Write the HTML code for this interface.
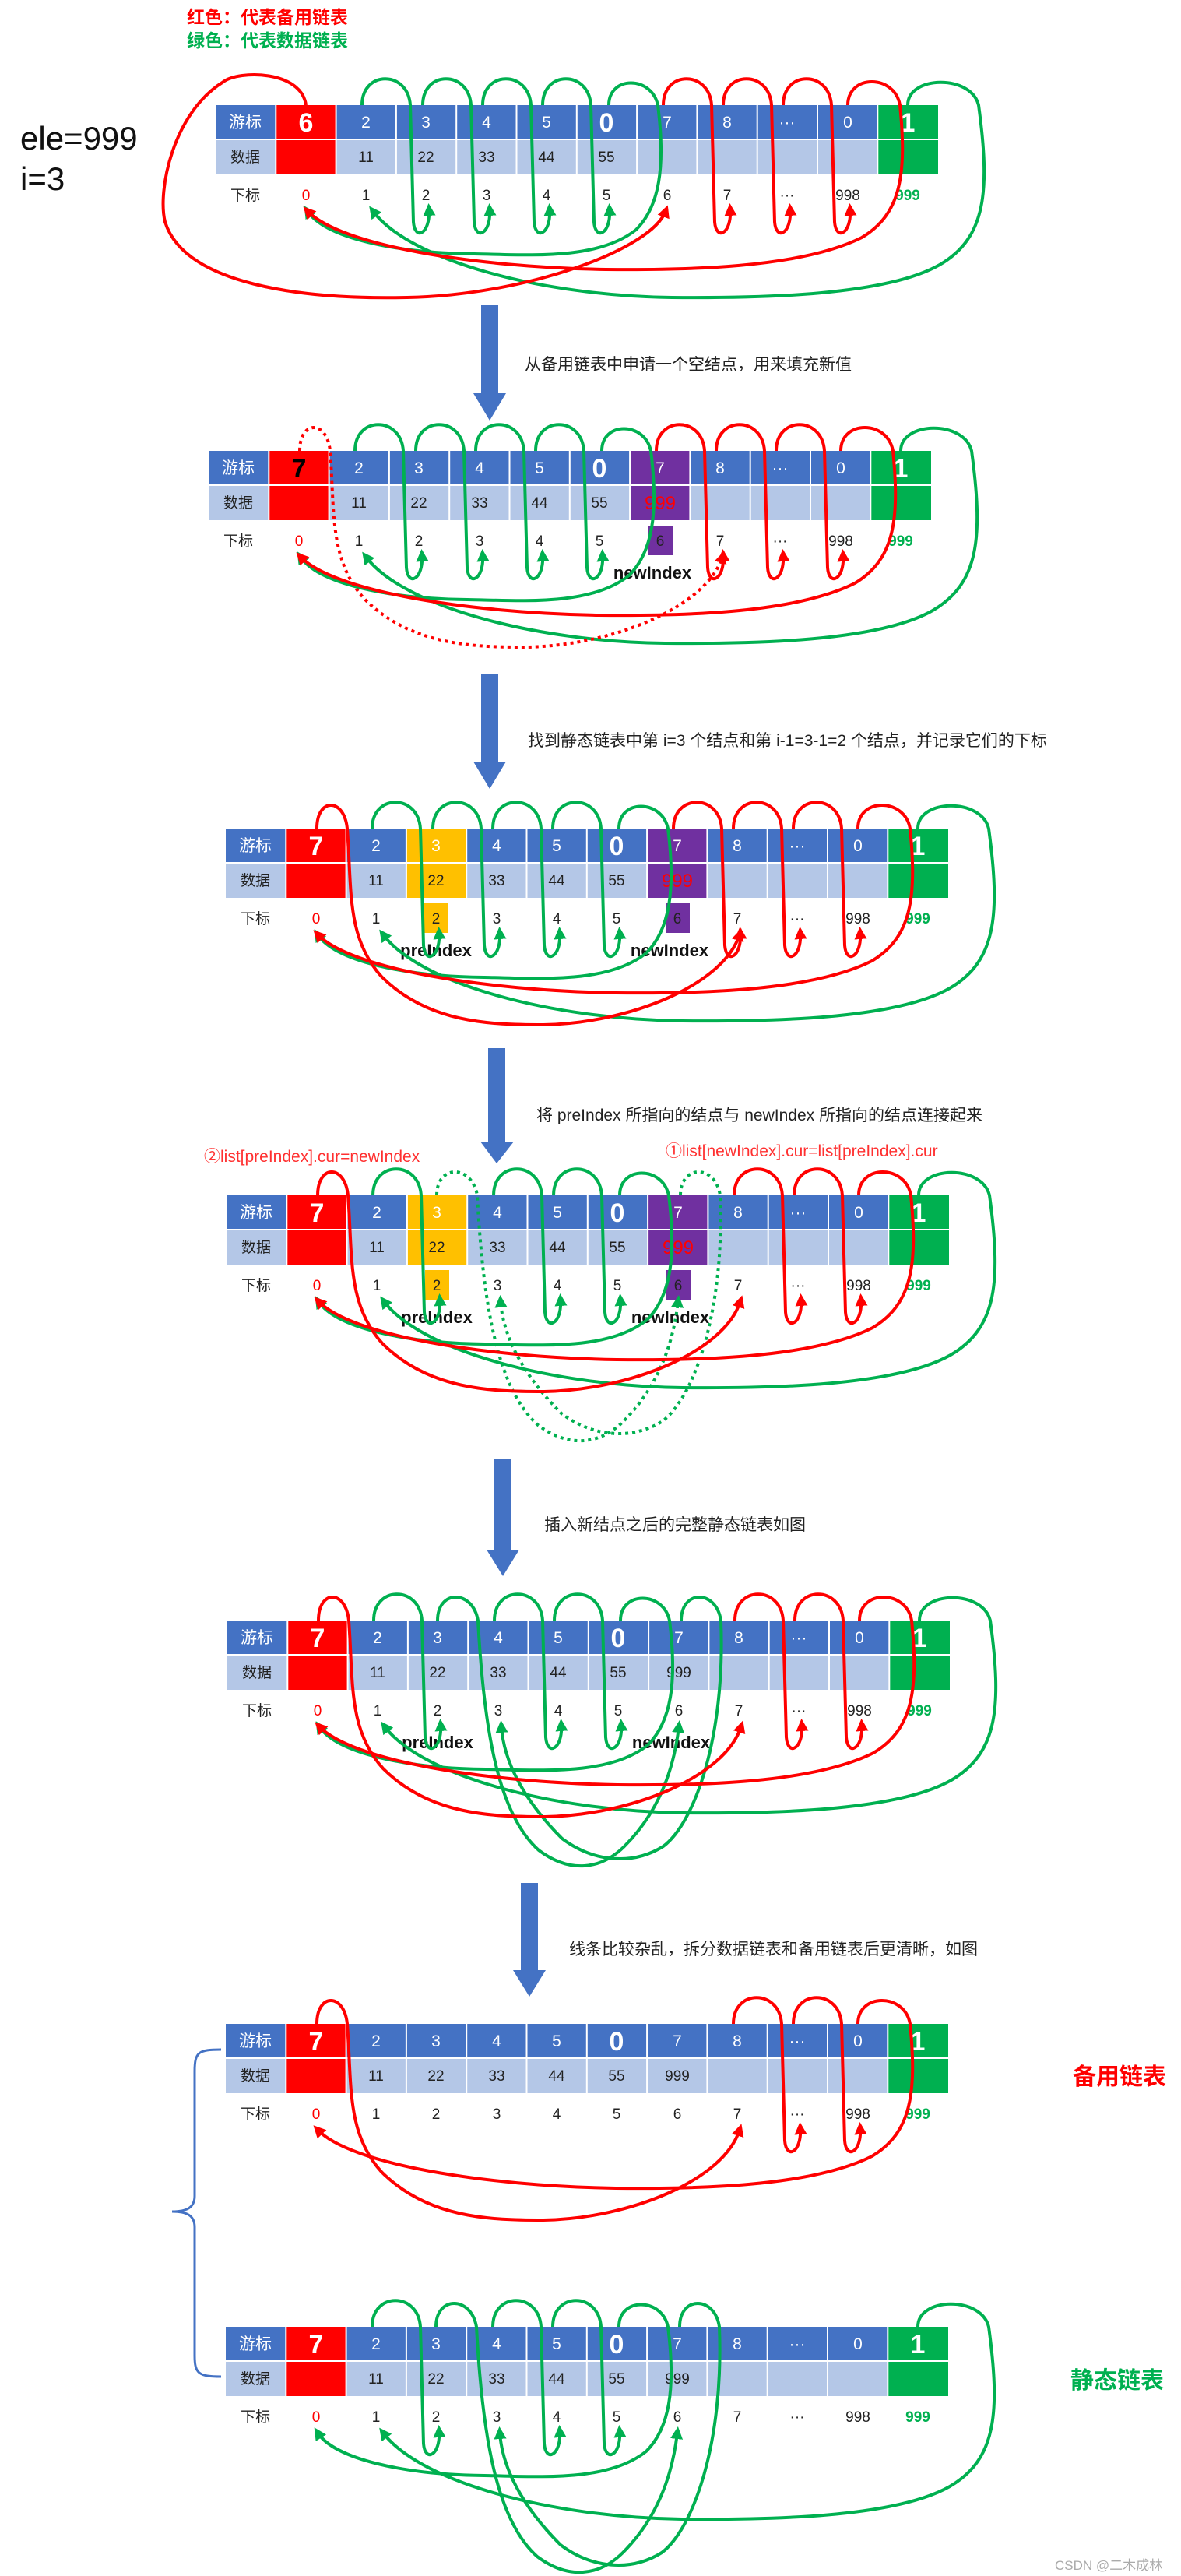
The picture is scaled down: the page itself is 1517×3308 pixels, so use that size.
<!DOCTYPE html>
<html><head><meta charset="utf-8"><style>
html,body{margin:0;padding:0;background:#fff}
svg{display:block}
text{font-family:"Liberation Sans","Noto Sans CJK SC",sans-serif}
.c{fill:#fff;font-size:21px;text-anchor:middle}
.b{fill:#fff;font-size:34px;font-weight:bold;text-anchor:middle}
.d{fill:#222;font-size:19px;text-anchor:middle}
.i{fill:#222;font-size:19px;text-anchor:middle}
.lb{font-size:21px;text-anchor:middle}
.g{fill:none;stroke:#00B050;stroke-width:4;marker-end:url(#mg)}
.r{fill:none;stroke:#FF0000;stroke-width:4;marker-end:url(#mr)}
.dt{stroke-dasharray:4 5}
.tag{font-size:22px;font-weight:bold;fill:#111;text-anchor:middle}
.t{font-size:21px;fill:#222}
</style></head><body>
<svg width="1517" height="3308" viewBox="0 0 1517 3308" xmlns="http://www.w3.org/2000/svg">
<defs>
<marker id="mr" viewBox="0 0 10 10" refX="5" refY="5" markerWidth="4" markerHeight="4" orient="auto"><path d="M0,0 L10,5 L0,10 z" fill="#FF0000"/></marker>
<marker id="mg" viewBox="0 0 10 10" refX="5" refY="5" markerWidth="4" markerHeight="4" orient="auto"><path d="M0,0 L10,5 L0,10 z" fill="#00B050"/></marker>
</defs>

<text x="240" y="30" font-size="23" font-weight="bold" fill="#FF0000">红色：代表备用链表</text>
<text x="240" y="60" font-size="23" font-weight="bold" fill="#00B050">绿色：代表数据链表</text>
<text x="26" y="192" font-size="42" fill="#111">ele=999</text>
<text x="26" y="244" font-size="42" fill="#111">i=3</text>

<!-- arrows -->
<g fill="#4472C4">
<polygon points="618,392 640,392 640,505 650,505 629,540 608,505 618,505"/>
<polygon points="618,865 640,865 640,978 650,978 629,1013 608,978 618,978"/>
<polygon points="627,1346 649,1346 649,1466 660,1466 638,1494 617,1466 627,1466"/>
<polygon points="635,1873 657,1873 657,1990 667,1990 646,2024 625,1990 635,1990"/>
<polygon points="669,2418 691,2418 691,2530 701,2530 680,2564 659,2530 669,2530"/>
</g>
<text x="674" y="475" class="t">从备用链表中申请一个空结点，用来填充新值</text>
<text x="678" y="958" class="t">找到静态链表中第 i=3 个结点和第 i-1=3-1=2 个结点，并记录它们的下标</text>
<text x="689" y="1439" class="t">将 preIndex 所指向的结点与 newIndex 所指向的结点连接起来</text>
<text x="699" y="1965" class="t">插入新结点之后的完整静态链表如图</text>
<text x="731" y="2510" class="t">线条比较杂乱，拆分数据链表和备用链表后更清晰，如图</text>

<text x="262" y="1492" font-size="21" fill="#FF3030">②list[preIndex].cur=newIndex</text>
<text x="855" y="1485" font-size="21" fill="#FF3030">①list[newIndex].cur=list[preIndex].cur</text>

<!-- D1 -->
<g transform="translate(277,135)">
<rect width="928" height="44" fill="#4472C4"/><rect y="44" width="928" height="45" fill="#B4C7E7"/>
<rect x="77.3" width="77.3" height="89" fill="#FF0000"/><rect x="850.3" width="77.7" height="89" fill="#00B050"/>
<path d="M77.3 0V89M154.6 0V89M231.9 0V89M309.2 0V89M386.5 0V89M463.8 0V89M541.1 0V89M618.4 0V89M695.7 0V89M773 0V89M850.3 0V89M0 44H928" stroke="#fff" stroke-width="2"/>
<text x="38" y="29" class="c">游标</text><text x="38" y="73" class="d">数据</text><text x="38" y="122" class="i">下标</text>
<text x="116" y="34" class="b">6</text><text x="193" y="29" class="c">2</text><text x="270" y="29" class="c">3</text><text x="348" y="29" class="c">4</text><text x="425" y="29" class="c">5</text><text x="502" y="34" class="b">0</text><text x="580" y="29" class="c">7</text><text x="657" y="29" class="c">8</text><text x="734" y="29" class="c">···</text><text x="812" y="29" class="c">0</text><text x="889" y="34" class="b">1</text>
<text x="193" y="73" class="d">11</text><text x="270" y="73" class="d">22</text><text x="348" y="73" class="d">33</text><text x="425" y="73" class="d">44</text><text x="502" y="73" class="d">55</text>
<text x="116" y="122" class="i" fill="#FF0000" style="fill:#f00">0</text><text x="193" y="122" class="i">1</text><text x="270" y="122" class="i">2</text><text x="348" y="122" class="i">3</text><text x="425" y="122" class="i">4</text><text x="502" y="122" class="i">5</text><text x="580" y="122" class="i">6</text><text x="657" y="122" class="i">7</text><text x="734" y="122" class="i">···</text><text x="812" y="122" class="i">998</text><text x="889" y="122" class="i" style="fill:#00B050;font-weight:bold">999</text>
<path class="g" d="M188,0 C188,-45 247,-45 250,0 L254,150 C256,175 276,165 274,134"/>
<path class="g" d="M266,0 C266,-45 325,-45 328,0 L332,150 C334,175 354,165 352,134"/>
<path class="g" d="M343,0 C343,-45 402,-45 405,0 L409,150 C411,175 431,165 429,134"/>
<path class="g" d="M420,0 C420,-45 479,-45 482,0 L486,150 C488,175 508,165 506,134"/>
<path class="g" d="M505,0 C505,-38 560,-38 568,0 C578,80 570,130 540,160 C490,200 400,192 332,191 C230,190 140,170 118,136"/>
<path class="g" d="M889,0 C889,-38 970,-40 980,0 C995,110 990,170 930,205 C860,245 700,248 586,247 C420,245 250,200 202,136"/>
<path class="r" d="M116,0 C110,-45 30,-45 10,-30 C-55,10 -75,110 -65,150 C-40,230 110,250 246,247 C400,244 560,185 578,136"/>
<path class="r" d="M575,0 C575,-45 634,-45 637,0 L641,150 C643,175 663,165 661,134"/>
<path class="r" d="M652,0 C652,-45 711,-45 714,0 L718,150 C720,175 740,165 738,134"/>
<path class="r" d="M729,0 C729,-45 788,-45 791,0 L795,150 C797,175 817,165 815,134"/>
<path class="r" d="M812,0 C812,-40 872,-40 879,0 C888,90 880,140 830,170 C750,210 600,212 501,211 C330,208 160,180 118,136"/>
</g>

<!-- D2 -->
<g transform="translate(268,579)">
<rect width="928" height="44" fill="#4472C4"/><rect y="44" width="928" height="45" fill="#B4C7E7"/>
<rect x="77.3" width="77.3" height="89" fill="#FF0000"/><rect x="850.3" width="77.7" height="89" fill="#00B050"/>
<rect x="541.1" width="77.3" height="89" fill="#7030A0"/>
<path d="M77.3 0V89M154.6 0V89M231.9 0V89M309.2 0V89M386.5 0V89M463.8 0V89M541.1 0V89M618.4 0V89M695.7 0V89M773 0V89M850.3 0V89M0 44H928" stroke="#fff" stroke-width="2"/>
<text x="38" y="29" class="c">游标</text><text x="38" y="73" class="d">数据</text><text x="38" y="122" class="i">下标</text>
<text x="116" y="34" class="b" style="fill:#000">7</text><text x="193" y="29" class="c">2</text><text x="270" y="29" class="c">3</text><text x="348" y="29" class="c">4</text><text x="425" y="29" class="c">5</text><text x="502" y="34" class="b">0</text><text x="580" y="29" class="c">7</text><text x="657" y="29" class="c">8</text><text x="734" y="29" class="c">···</text><text x="812" y="29" class="c">0</text><text x="889" y="34" class="b">1</text>
<text x="193" y="73" class="d">11</text><text x="270" y="73" class="d">22</text><text x="348" y="73" class="d">33</text><text x="425" y="73" class="d">44</text><text x="502" y="73" class="d">55</text><text x="580" y="75" class="d" style="fill:#f00;font-size:24px">999</text>
<rect x="565" y="96" width="31" height="38" fill="#7030A0"/>
<text x="116" y="122" class="i" style="fill:#f00">0</text><text x="193" y="122" class="i">1</text><text x="270" y="122" class="i">2</text><text x="348" y="122" class="i">3</text><text x="425" y="122" class="i">4</text><text x="502" y="122" class="i">5</text><text x="580" y="122" class="i">6</text><text x="657" y="122" class="i">7</text><text x="734" y="122" class="i">···</text><text x="812" y="122" class="i">998</text><text x="889" y="122" class="i" style="fill:#00B050;font-weight:bold">999</text>
<text x="570" y="164" class="tag">newIndex</text>
<path class="g" d="M188,0 C188,-45 247,-45 250,0 L254,150 C256,175 276,165 274,134"/>
<path class="g" d="M266,0 C266,-45 325,-45 328,0 L332,150 C334,175 354,165 352,134"/>
<path class="g" d="M343,0 C343,-45 402,-45 405,0 L409,150 C411,175 431,165 429,134"/>
<path class="g" d="M420,0 C420,-45 479,-45 482,0 L486,150 C488,175 508,165 506,134"/>
<path class="g" d="M505,0 C505,-38 560,-38 568,0 C578,80 570,130 540,160 C490,200 400,192 332,191 C230,190 140,170 118,136"/>
<path class="g" d="M889,0 C889,-38 970,-40 980,0 C995,110 990,170 930,205 C860,245 700,248 586,247 C420,245 250,200 202,136"/>
<path class="r dt" d="M117,0 C117,-40 152,-40 156,0 C162,80 155,140 200,190 C260,250 340,252 408,252 C520,250 640,200 660,136"/>
<path class="r" d="M575,0 C575,-45 634,-45 637,0 L641,150 C643,175 663,165 661,134"/>
<path class="r" d="M652,0 C652,-45 711,-45 714,0 L718,150 C720,175 740,165 738,134"/>
<path class="r" d="M729,0 C729,-45 788,-45 791,0 L795,150 C797,175 817,165 815,134"/>
<path class="r" d="M812,0 C812,-40 872,-40 879,0 C888,90 880,140 830,170 C750,210 600,212 501,211 C330,208 160,180 118,136"/>
</g>

<!-- D3 -->
<g transform="translate(290,1064)">
<rect width="928" height="44" fill="#4472C4"/><rect y="44" width="928" height="45" fill="#B4C7E7"/>
<rect x="77.3" width="77.3" height="89" fill="#FF0000"/><rect x="850.3" width="77.7" height="89" fill="#00B050"/>
<rect x="541.1" width="77.3" height="89" fill="#7030A0"/><rect x="231.9" width="77.3" height="89" fill="#FFC000"/>
<path d="M77.3 0V89M154.6 0V89M231.9 0V89M309.2 0V89M386.5 0V89M463.8 0V89M541.1 0V89M618.4 0V89M695.7 0V89M773 0V89M850.3 0V89M0 44H928" stroke="#fff" stroke-width="2"/>
<text x="38" y="29" class="c">游标</text><text x="38" y="73" class="d">数据</text><text x="38" y="122" class="i">下标</text>
<text x="116" y="34" class="b">7</text><text x="193" y="29" class="c">2</text><text x="270" y="29" class="c">3</text><text x="348" y="29" class="c">4</text><text x="425" y="29" class="c">5</text><text x="502" y="34" class="b">0</text><text x="580" y="29" class="c">7</text><text x="657" y="29" class="c">8</text><text x="734" y="29" class="c">···</text><text x="812" y="29" class="c">0</text><text x="889" y="34" class="b">1</text>
<text x="193" y="73" class="d">11</text><text x="270" y="73" class="d">22</text><text x="348" y="73" class="d">33</text><text x="425" y="73" class="d">44</text><text x="502" y="73" class="d">55</text><text x="580" y="75" class="d" style="fill:#f00;font-size:24px">999</text>
<rect x="565" y="96" width="31" height="38" fill="#7030A0"/><rect x="255" y="96" width="31" height="38" fill="#FFC000"/>
<text x="116" y="122" class="i" style="fill:#f00">0</text><text x="193" y="122" class="i">1</text><text x="270" y="122" class="i">2</text><text x="348" y="122" class="i">3</text><text x="425" y="122" class="i">4</text><text x="502" y="122" class="i">5</text><text x="580" y="122" class="i">6</text><text x="657" y="122" class="i">7</text><text x="734" y="122" class="i">···</text><text x="812" y="122" class="i">998</text><text x="889" y="122" class="i" style="fill:#00B050;font-weight:bold">999</text>
<text x="270" y="164" class="tag">preIndex</text><text x="570" y="164" class="tag">newIndex</text>
<path class="g" d="M188,0 C188,-45 247,-45 250,0 L254,150 C256,175 276,165 274,134"/>
<path class="g" d="M266,0 C266,-45 325,-45 328,0 L332,150 C334,175 354,165 352,134"/>
<path class="g" d="M343,0 C343,-45 402,-45 405,0 L409,150 C411,175 431,165 429,134"/>
<path class="g" d="M420,0 C420,-45 479,-45 482,0 L486,150 C488,175 508,165 506,134"/>
<path class="g" d="M505,0 C505,-38 560,-38 568,0 C578,80 570,130 540,160 C490,200 400,192 332,191 C230,190 140,170 118,136"/>
<path class="g" d="M889,0 C889,-38 970,-40 980,0 C995,110 990,170 930,205 C860,245 700,248 586,247 C420,245 250,200 202,136"/>
<path class="r" d="M117,0 C117,-40 152,-40 156,0 C162,80 155,140 200,190 C260,250 340,252 408,252 C520,250 640,200 660,136"/>
<path class="r" d="M575,0 C575,-45 634,-45 637,0 L641,150 C643,175 663,165 661,134"/>
<path class="r" d="M652,0 C652,-45 711,-45 714,0 L718,150 C720,175 740,165 738,134"/>
<path class="r" d="M729,0 C729,-45 788,-45 791,0 L795,150 C797,175 817,165 815,134"/>
<path class="r" d="M812,0 C812,-40 872,-40 879,0 C888,90 880,140 830,170 C750,210 600,212 501,211 C330,208 160,180 118,136"/>
</g>

<!-- D4 -->
<g transform="translate(291,1535)">
<rect width="928" height="44" fill="#4472C4"/><rect y="44" width="928" height="45" fill="#B4C7E7"/>
<rect x="77.3" width="77.3" height="89" fill="#FF0000"/><rect x="850.3" width="77.7" height="89" fill="#00B050"/>
<rect x="541.1" width="77.3" height="89" fill="#7030A0"/><rect x="231.9" width="77.3" height="89" fill="#FFC000"/>
<path d="M77.3 0V89M154.6 0V89M231.9 0V89M309.2 0V89M386.5 0V89M463.8 0V89M541.1 0V89M618.4 0V89M695.7 0V89M773 0V89M850.3 0V89M0 44H928" stroke="#fff" stroke-width="2"/>
<text x="38" y="29" class="c">游标</text><text x="38" y="73" class="d">数据</text><text x="38" y="122" class="i">下标</text>
<text x="116" y="34" class="b">7</text><text x="193" y="29" class="c">2</text><text x="270" y="29" class="c">3</text><text x="348" y="29" class="c">4</text><text x="425" y="29" class="c">5</text><text x="502" y="34" class="b">0</text><text x="580" y="29" class="c">7</text><text x="657" y="29" class="c">8</text><text x="734" y="29" class="c">···</text><text x="812" y="29" class="c">0</text><text x="889" y="34" class="b">1</text>
<text x="193" y="73" class="d">11</text><text x="270" y="73" class="d">22</text><text x="348" y="73" class="d">33</text><text x="425" y="73" class="d">44</text><text x="502" y="73" class="d">55</text><text x="580" y="75" class="d" style="fill:#f00;font-size:24px">999</text>
<rect x="565" y="96" width="31" height="38" fill="#7030A0"/><rect x="255" y="96" width="31" height="38" fill="#FFC000"/>
<text x="116" y="122" class="i" style="fill:#f00">0</text><text x="193" y="122" class="i">1</text><text x="270" y="122" class="i">2</text><text x="348" y="122" class="i">3</text><text x="425" y="122" class="i">4</text><text x="502" y="122" class="i">5</text><text x="580" y="122" class="i">6</text><text x="657" y="122" class="i">7</text><text x="734" y="122" class="i">···</text><text x="812" y="122" class="i">998</text><text x="889" y="122" class="i" style="fill:#00B050;font-weight:bold">999</text>
<text x="270" y="164" class="tag">preIndex</text><text x="570" y="164" class="tag">newIndex</text>
<path class="g" d="M188,0 C188,-45 247,-45 250,0 L254,150 C256,175 276,165 274,134"/>
<path class="g" d="M343,0 C343,-45 402,-45 405,0 L409,150 C411,175 431,165 429,134"/>
<path class="g" d="M420,0 C420,-45 479,-45 482,0 L486,150 C488,175 508,165 506,134"/>
<path class="g" d="M505,0 C505,-38 560,-38 568,0 C578,80 570,130 540,160 C490,200 400,192 332,191 C230,190 140,170 118,136"/>
<path class="g" d="M889,0 C889,-38 970,-40 980,0 C995,110 990,170 930,205 C860,245 700,248 586,247 C420,245 250,200 202,136"/>
<path class="g dt" d="M270,0 C270,-40 315,-40 322,0 C330,150 350,250 400,295 C440,325 480,320 510,290 C560,240 575,180 580,136"/>
<path class="g dt" d="M583,0 C583,-40 628,-40 634,0 C640,150 600,260 560,290 C520,315 470,310 430,280 C380,230 355,180 352,136"/>
<path class="r" d="M117,0 C117,-40 152,-40 156,0 C162,80 155,140 200,190 C260,250 340,252 408,252 C520,250 640,200 660,136"/>
<path class="r" d="M652,0 C652,-45 711,-45 714,0 L718,150 C720,175 740,165 738,134"/>
<path class="r" d="M729,0 C729,-45 788,-45 791,0 L795,150 C797,175 817,165 815,134"/>
<path class="r" d="M812,0 C812,-40 872,-40 879,0 C888,90 880,140 830,170 C750,210 600,212 501,211 C330,208 160,180 118,136"/>
</g>

<!-- D5 -->
<g transform="translate(292,2081)">
<rect width="928" height="44" fill="#4472C4"/><rect y="44" width="928" height="45" fill="#B4C7E7"/>
<rect x="77.3" width="77.3" height="89" fill="#FF0000"/><rect x="850.3" width="77.7" height="89" fill="#00B050"/>
<path d="M77.3 0V89M154.6 0V89M231.9 0V89M309.2 0V89M386.5 0V89M463.8 0V89M541.1 0V89M618.4 0V89M695.7 0V89M773 0V89M850.3 0V89M0 44H928" stroke="#fff" stroke-width="2"/>
<text x="38" y="29" class="c">游标</text><text x="38" y="73" class="d">数据</text><text x="38" y="122" class="i">下标</text>
<text x="116" y="34" class="b">7</text><text x="193" y="29" class="c">2</text><text x="270" y="29" class="c">3</text><text x="348" y="29" class="c">4</text><text x="425" y="29" class="c">5</text><text x="502" y="34" class="b">0</text><text x="580" y="29" class="c">7</text><text x="657" y="29" class="c">8</text><text x="734" y="29" class="c">···</text><text x="812" y="29" class="c">0</text><text x="889" y="34" class="b">1</text>
<text x="193" y="73" class="d">11</text><text x="270" y="73" class="d">22</text><text x="348" y="73" class="d">33</text><text x="425" y="73" class="d">44</text><text x="502" y="73" class="d">55</text><text x="580" y="73" class="d">999</text>
<text x="116" y="122" class="i" style="fill:#f00">0</text><text x="193" y="122" class="i">1</text><text x="270" y="122" class="i">2</text><text x="348" y="122" class="i">3</text><text x="425" y="122" class="i">4</text><text x="502" y="122" class="i">5</text><text x="580" y="122" class="i">6</text><text x="657" y="122" class="i">7</text><text x="734" y="122" class="i">···</text><text x="812" y="122" class="i">998</text><text x="889" y="122" class="i" style="fill:#00B050;font-weight:bold">999</text>
<text x="270" y="164" class="tag">preIndex</text><text x="570" y="164" class="tag">newIndex</text>
<path class="g" d="M188,0 C188,-45 247,-45 250,0 L254,150 C256,175 276,165 274,134"/>
<path class="g" d="M343,0 C343,-45 402,-45 405,0 L409,150 C411,175 431,165 429,134"/>
<path class="g" d="M420,0 C420,-45 479,-45 482,0 L486,150 C488,175 508,165 506,134"/>
<path class="g" d="M505,0 C505,-38 560,-38 568,0 C578,80 570,130 540,160 C490,200 400,192 332,191 C230,190 140,170 118,136"/>
<path class="g" d="M889,0 C889,-38 970,-40 980,0 C995,110 990,170 930,205 C860,245 700,248 586,247 C420,245 250,200 202,136"/>
<path class="g" d="M270,0 C270,-40 315,-40 322,0 C330,150 350,250 400,295 C440,325 480,320 510,290 C560,240 575,180 580,136"/>
<path class="g" d="M583,0 C583,-40 628,-40 634,0 C640,150 600,260 560,290 C520,315 470,310 430,280 C380,230 355,180 352,136"/>
<path class="r" d="M117,0 C117,-40 152,-40 156,0 C162,80 155,140 200,190 C260,250 340,252 408,252 C520,250 640,200 660,136"/>
<path class="r" d="M652,0 C652,-45 711,-45 714,0 L718,150 C720,175 740,165 738,134"/>
<path class="r" d="M729,0 C729,-45 788,-45 791,0 L795,150 C797,175 817,165 815,134"/>
<path class="r" d="M812,0 C812,-40 872,-40 879,0 C888,90 880,140 830,170 C750,210 600,212 501,211 C330,208 160,180 118,136"/>
</g>

<!-- D6 -->
<g transform="translate(290,2599)">
<rect width="928" height="44" fill="#4472C4"/><rect y="44" width="928" height="45" fill="#B4C7E7"/>
<rect x="77.3" width="77.3" height="89" fill="#FF0000"/><rect x="850.3" width="77.7" height="89" fill="#00B050"/>
<path d="M77.3 0V89M154.6 0V89M231.9 0V89M309.2 0V89M386.5 0V89M463.8 0V89M541.1 0V89M618.4 0V89M695.7 0V89M773 0V89M850.3 0V89M0 44H928" stroke="#fff" stroke-width="2"/>
<text x="38" y="29" class="c">游标</text><text x="38" y="73" class="d">数据</text><text x="38" y="122" class="i">下标</text>
<text x="116" y="34" class="b">7</text><text x="193" y="29" class="c">2</text><text x="270" y="29" class="c">3</text><text x="348" y="29" class="c">4</text><text x="425" y="29" class="c">5</text><text x="502" y="34" class="b">0</text><text x="580" y="29" class="c">7</text><text x="657" y="29" class="c">8</text><text x="734" y="29" class="c">···</text><text x="812" y="29" class="c">0</text><text x="889" y="34" class="b">1</text>
<text x="193" y="73" class="d">11</text><text x="270" y="73" class="d">22</text><text x="348" y="73" class="d">33</text><text x="425" y="73" class="d">44</text><text x="502" y="73" class="d">55</text><text x="580" y="73" class="d">999</text>
<text x="116" y="122" class="i" style="fill:#f00">0</text><text x="193" y="122" class="i">1</text><text x="270" y="122" class="i">2</text><text x="348" y="122" class="i">3</text><text x="425" y="122" class="i">4</text><text x="502" y="122" class="i">5</text><text x="580" y="122" class="i">6</text><text x="657" y="122" class="i">7</text><text x="734" y="122" class="i">···</text><text x="812" y="122" class="i">998</text><text x="889" y="122" class="i" style="fill:#00B050;font-weight:bold">999</text>
<path class="r" d="M117,0 C117,-40 152,-40 156,0 C162,80 155,140 200,190 C260,250 340,252 408,252 C520,250 640,200 660,136"/>
<path class="r" d="M652,0 C652,-45 711,-45 714,0 L718,150 C720,175 740,165 738,134"/>
<path class="r" d="M729,0 C729,-45 788,-45 791,0 L795,150 C797,175 817,165 815,134"/>
<path class="r" d="M812,0 C812,-40 872,-40 879,0 C888,90 880,140 830,170 C750,210 600,212 501,211 C330,208 160,180 118,136"/>
</g>

<!-- D7 -->
<g transform="translate(290,2988)">
<rect width="928" height="44" fill="#4472C4"/><rect y="44" width="928" height="45" fill="#B4C7E7"/>
<rect x="77.3" width="77.3" height="89" fill="#FF0000"/><rect x="850.3" width="77.7" height="89" fill="#00B050"/>
<path d="M77.3 0V89M154.6 0V89M231.9 0V89M309.2 0V89M386.5 0V89M463.8 0V89M541.1 0V89M618.4 0V89M695.7 0V89M773 0V89M850.3 0V89M0 44H928" stroke="#fff" stroke-width="2"/>
<text x="38" y="29" class="c">游标</text><text x="38" y="73" class="d">数据</text><text x="38" y="122" class="i">下标</text>
<text x="116" y="34" class="b">7</text><text x="193" y="29" class="c">2</text><text x="270" y="29" class="c">3</text><text x="348" y="29" class="c">4</text><text x="425" y="29" class="c">5</text><text x="502" y="34" class="b">0</text><text x="580" y="29" class="c">7</text><text x="657" y="29" class="c">8</text><text x="734" y="29" class="c">···</text><text x="812" y="29" class="c">0</text><text x="889" y="34" class="b">1</text>
<text x="193" y="73" class="d">11</text><text x="270" y="73" class="d">22</text><text x="348" y="73" class="d">33</text><text x="425" y="73" class="d">44</text><text x="502" y="73" class="d">55</text><text x="580" y="73" class="d">999</text>
<text x="116" y="122" class="i" style="fill:#f00">0</text><text x="193" y="122" class="i">1</text><text x="270" y="122" class="i">2</text><text x="348" y="122" class="i">3</text><text x="425" y="122" class="i">4</text><text x="502" y="122" class="i">5</text><text x="580" y="122" class="i">6</text><text x="657" y="122" class="i">7</text><text x="734" y="122" class="i">···</text><text x="812" y="122" class="i">998</text><text x="889" y="122" class="i" style="fill:#00B050;font-weight:bold">999</text>
<path class="g" d="M188,0 C188,-45 247,-45 250,0 L254,150 C256,175 276,165 274,134"/>
<path class="g" d="M343,0 C343,-45 402,-45 405,0 L409,150 C411,175 431,165 429,134"/>
<path class="g" d="M420,0 C420,-45 479,-45 482,0 L486,150 C488,175 508,165 506,134"/>
<path class="g" d="M505,0 C505,-38 560,-38 568,0 C578,80 570,130 540,160 C490,200 400,192 332,191 C230,190 140,170 118,136"/>
<path class="g" d="M889,0 C889,-38 970,-40 980,0 C995,110 990,170 930,205 C860,245 700,248 586,247 C420,245 250,200 202,136"/>
<path class="g" d="M270,0 C270,-40 315,-40 322,0 C330,150 350,250 400,295 C440,325 480,320 510,290 C560,240 575,180 580,136"/>
<path class="g" d="M583,0 C583,-40 628,-40 634,0 C640,150 600,260 560,290 C520,315 470,310 430,280 C380,230 355,180 352,136"/>
</g>

<!-- brace -->
<path d="M284,2632 C255,2632 250,2635 250,2660 L250,2820 C250,2835 240,2840 221,2840 C240,2840 250,2845 250,2860 L250,3025 C250,3048 255,3052 284,3052" fill="none" stroke="#4472C4" stroke-width="3"/>
<text x="1378" y="2677" font-size="30" font-weight="bold" fill="#FF0000">备用链表</text>
<text x="1375" y="3067" font-size="30" font-weight="bold" fill="#00B050">静态链表</text>
<text x="1355" y="3300" font-size="17" fill="#aaa">CSDN @二木成林</text>
</svg>
</body></html>
